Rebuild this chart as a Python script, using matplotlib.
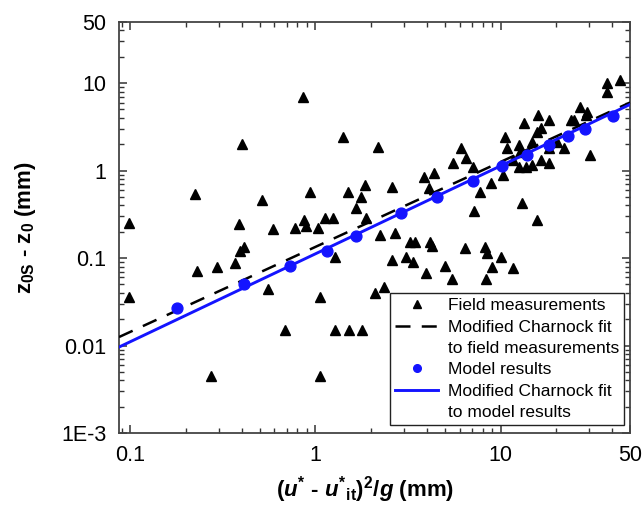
import matplotlib
matplotlib.use("Agg")
import matplotlib.pyplot as plt
from matplotlib.lines import Line2D
from matplotlib.ticker import FixedLocator, LogLocator, NullFormatter

plt.rcParams['font.family'] = ['Liberation Sans', 'DejaVu Sans']
plt.rcParams['mathtext.fontset'] = 'custom'
plt.rcParams['mathtext.rm'] = 'Liberation Sans:bold'
plt.rcParams['mathtext.it'] = 'Liberation Sans:italic:bold'
plt.rcParams['mathtext.bf'] = 'Liberation Sans:bold'

# ---------------------------
# Field measurements (triangles)
# ---------------------------
field_x = [0.099, 0.223, 0.402, 0.388, 0.413, 0.515, 0.591, 0.777, 0.872, 0.894,
           1.034, 1.13, 1.247, 0.854, 0.94,
           1.41, 1.495, 1.666, 1.766, 1.864, 1.887, 2.17, 2.60, 2.23, 2.68,
           3.26, 3.43, 4.15, 4.27, 3.85, 4.36, 4.13, 5.55, 6.08, 6.47,
           7.08, 7.17, 7.70, 8.83, 10.6, 10.8, 10.3, 13.4, 13.1, 15.8,
           15.9, 18.2, 16.6, 15.8, 14.8, 12.6, 12.8, 11.6, 12.6, 13.7,
           14.8, 16.5, 18.2, 18.2, 20.2, 22.0, 23.9, 24.9, 26.8, 29.4,
           28.8, 30.4, 37.4, 37.7, 44.2,
           0.099, 0.229, 0.294, 0.369, 0.273, 0.552, 0.688, 1.065, 1.065, 1.28,
           1.28, 1.51, 1.79, 2.11, 2.36, 2.60, 3.07, 3.37, 3.98, 5.0,
           5.46, 6.41, 8.22, 8.40, 10.0, 8.37, 9.04, 11.7, 0.393]
field_y = [0.254, 0.541, 2.02, 0.245, 0.135, 0.462, 0.214, 0.223, 0.273, 0.233,
           0.219, 0.286, 0.286, 7.0, 0.575,
           2.40, 0.575, 0.372, 0.504, 0.686, 0.286, 1.88, 0.656, 0.184, 0.192,
           0.154, 0.154, 0.154, 0.138, 0.853, 0.933, 0.629, 1.21, 1.80, 1.38,
           1.11, 0.349, 0.575, 0.728, 2.44, 1.80, 0.89, 3.48, 0.424, 0.273,
           4.33, 3.79, 3.05, 2.79, 2.14, 1.96, 1.65, 1.32, 1.11, 1.11,
           1.16, 1.32, 1.21, 1.80, 2.14, 1.80, 3.79, 3.79, 5.38, 4.72,
           4.33, 1.51, 7.98, 9.96, 10.9,
           0.0363, 0.072, 0.080, 0.0887, 0.0045, 0.0441, 0.0151, 0.0363, 0.0045, 0.102,
           0.0151, 0.0151, 0.0151, 0.0397, 0.0465, 0.0953, 0.102, 0.0912, 0.0671, 0.082,
           0.0573, 0.130, 0.135, 0.114, 0.102, 0.0573, 0.080, 0.0766, 0.121]

# ---------------------------
# Model results (circles)
# ---------------------------
model_x = [0.18, 0.41, 0.73, 1.15, 1.65, 2.9, 4.55, 7.1, 10.2, 13.9, 18.2, 23.1, 28.5, 40.6]
model_y = [0.027, 0.050, 0.082, 0.119, 0.181, 0.326, 0.50, 0.77, 1.13, 1.51, 1.96, 2.49, 3.02, 4.21]

# ---------------------------
# Modified Charnock fits (end points of straight log-log lines)
# ---------------------------
fit_x = [0.087, 50]
field_fit_y = [0.0125, 6.0]
model_fit_y = [0.0096, 5.7]

x_ticks = [0.1, 1, 10, 50]
x_tick_labels = ["0.1", "1", "10", "50"]
y_ticks = [1e-3, 0.01, 0.1, 1, 10, 50]
y_tick_labels = ["1E-3", "0.01", "0.1", "1", "10", "50"]

fig = plt.figure(figsize=(6.44, 5.17), dpi=100)
ax = fig.add_axes([0.1848, 0.1625, 0.7935, 0.795])

ax.plot(field_x, field_y, ls='none', marker='^', color='black', ms=7, zorder=2)
ax.plot(fit_x, field_fit_y, color='black', lw=1.8, dashes=(6, 4.5), zorder=3)
ax.plot(fit_x, model_fit_y, color='#1414ff', lw=2.1, zorder=4)
ax.plot(model_x, model_y, ls='none', marker='o', color='#1414ff', ms=7.8, zorder=5)

ax.set_xscale('log')
ax.set_yscale('log')
ax.set_xlim(0.087, 50)
ax.set_ylim(1e-3, 50)

ax.xaxis.set_major_locator(FixedLocator(x_ticks))
ax.set_xticklabels(x_tick_labels)
ax.yaxis.set_major_locator(FixedLocator(y_ticks))
ax.set_yticklabels(y_tick_labels)
for axis in (ax.xaxis, ax.yaxis):
    axis.set_minor_locator(LogLocator(base=10, subs=range(2, 10), numticks=20))
    axis.set_minor_formatter(NullFormatter())

ax.tick_params(which='both', direction='in', top=True, right=True, colors='#333333',
               labelcolor='black', labelsize=15.5, pad=9)
ax.tick_params(which='major', length=6, width=1.1)
ax.tick_params(which='minor', length=3.5, width=1.0)
for s in ax.spines.values():
    s.set_color('#444444')
    s.set_linewidth(1.3)

ax.set_xlabel(r"($u^{*}$ - $u^{*}{}_{\mathrm{it}}$)$^{2}$/$g$ (mm)", fontsize=16, fontweight='bold')
ax.xaxis.set_label_coords(0.481, -0.10)
ax.set_ylabel(r"$\mathrm{z}_{\mathrm{0S}}$ - $\mathrm{z}_{\mathrm{0}}$ (mm)", fontsize=16, fontweight='bold')
ax.yaxis.label.set_va('center')
ax.yaxis.set_label_coords(-0.183, 0.5)

handles = [
    Line2D([], [], ls='none', marker='^', color='black', ms=5.5),
    Line2D([], [], color='black', lw=1.8, dashes=(6, 4.5)),
    Line2D([], [], ls='none'),
    Line2D([], [], ls='none', marker='o', color='#1414ff', ms=5.5),
    Line2D([], [], color='#1414ff', lw=2.1),
    Line2D([], [], ls='none'),
]
labels = ["Field measurements", "Modified Charnock fit", "to field measurements",
          "Model results", "Modified Charnock fit", "to model results"]
leg = ax.legend(handles, labels, loc='upper left', bbox_to_anchor=(0.53, 0.341),
                borderaxespad=0, fontsize=12.5, frameon=True, fancybox=False,
                edgecolor='#222222', framealpha=1, handlelength=2.5,
                handletextpad=0.55, labelspacing=0.36, borderpad=0.3)
leg.get_frame().set_linewidth(1.0)

fig.savefig("out.png", dpi=100)
